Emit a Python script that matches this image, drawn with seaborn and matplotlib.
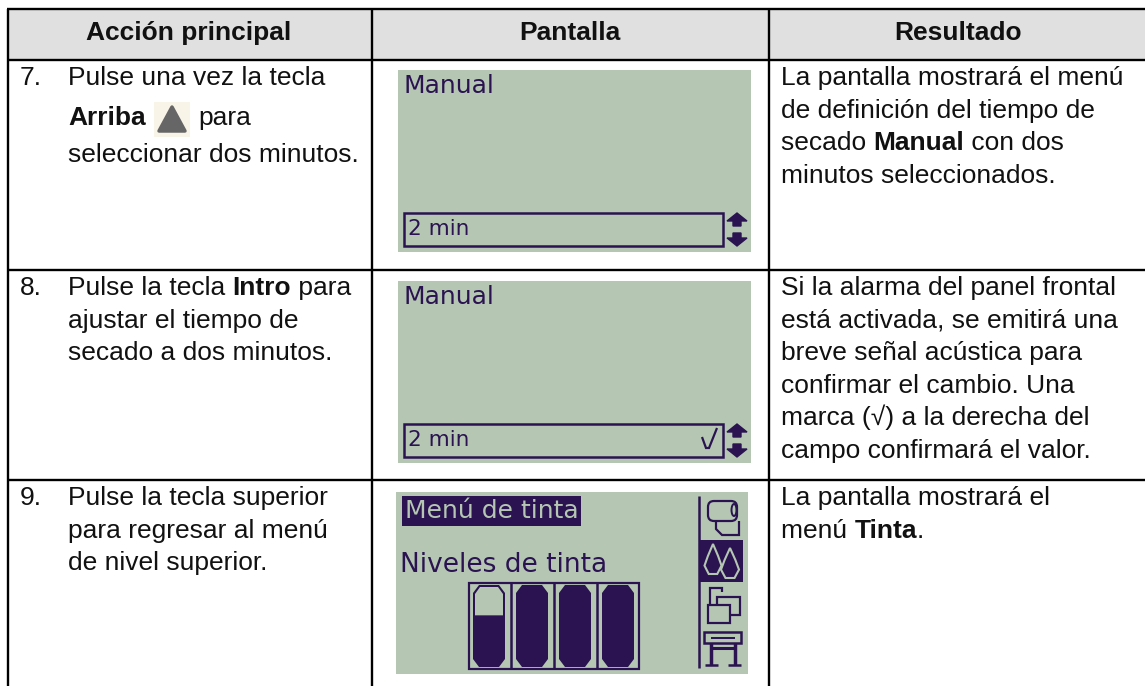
import matplotlib
matplotlib.use('Agg')
import matplotlib.pyplot as plt
import seaborn as sns
from matplotlib.patches import Polygon, Rectangle, Ellipse, FancyBboxPatch

HEADERS = ['Acción principal', 'Pantalla', 'Resultado']
STEP_NUMBERS = ['7.', '8.', '9.']
ACTION_TEXT = [
    [[('Pulse una vez la tecla', False)],
     [('Arriba', True)],
     [('seleccionar dos minutos.', False)]],
    [[('Pulse la tecla ', False), ('Intro', True), (' para', False)],
     [('ajustar el tiempo de', False)],
     [('secado a dos minutos.', False)]],
    [[('Pulse la tecla superior', False)],
     [('para regresar al menú', False)],
     [('de nivel superior.', False)]],
]
RESULT_TEXT = [
    [[('La pantalla mostrará el menú', False)],
     [('de definición del tiempo de', False)],
     [('secado ', False), ('Manual', True), (' con dos', False)],
     [('minutos seleccionados.', False)]],
    [[('Si la alarma del panel frontal', False)],
     [('está activada, se emitirá una', False)],
     [('breve señal acústica para', False)],
     [('confirmar el cambio. Una', False)],
     [('marca (√) a la derecha del', False)],
     [('campo confirmará el valor.', False)]],
    [[('La pantalla mostrará el', False)],
     [('menú ', False), ('Tinta', True), ('.', False)]],
]
SCREEN_TITLE = 'Manual'
SCREEN_VALUE = '2 min'
SCREEN_MENU = 'Menú de tinta'
SCREEN_LEVELS = 'Niveles de tinta'
INK_FRACTIONS = [0.63, 1.0, 1.0, 1.0]

LCD = '#b5c7b3'
INK = '#2a1350'
FONT = ['Liberation Sans', 'DejaVu Sans']

sns.set_theme(style='white')
plt.rcParams['font.family'] = FONT

fig = plt.figure(figsize=(11.45, 6.86), dpi=100)
ax = fig.add_axes([0, 0, 1, 1])
ax.set_xlim(0, 1145)
ax.set_ylim(686, 0)
ax.axis('off')

LEFT, COL1, COL2, RIGHT = 8, 372, 769, 1145
TOP, HEAD, ROW1, ROW2 = 9, 60, 270, 480
ROW_TOPS = [HEAD, ROW1, ROW2]
LINE_STEP = 32.6


def runs(x, y, parts, size=19):
    # draw mixed regular/bold pieces one after the other on a baseline
    renderer = fig.canvas.get_renderer()
    for s, bold in parts:
        t = ax.text(x, y, s.replace(' ', '\u00a0'), fontsize=size, color='#111111', va='baseline',
                    fontweight='bold' if bold else 'normal')
        x += t.get_window_extent(renderer).width
    return x


def line(xs, ys, lw=1.4, color=INK):
    ax.plot(xs, ys, color=color, lw=lw, solid_capstyle='butt', solid_joinstyle='miter')


def lcd_arrows(x, y):
    ax.add_patch(Polygon([(x, y), (x + 10, y + 8), (x + 4, y + 8), (x + 4, y + 13), (x - 4, y + 13), (x - 4, y + 8), (x - 10, y + 8)], color=INK))
    y = y + 33
    ax.add_patch(Polygon([(x, y), (x + 10, y - 8), (x + 4, y - 8), (x + 4, y - 13), (x - 4, y - 13), (x - 4, y - 8), (x - 10, y - 8)], color=INK))


def manual_screen(y0, checked):
    ax.add_patch(Rectangle((398, y0), 353, 182, color=LCD, lw=0))
    ax.text(403, y0 + 23, SCREEN_TITLE, fontsize=18, family='DejaVu Sans', color=INK, va='baseline')
    ax.add_patch(Rectangle((404, y0 + 143), 319, 33, fill=False, ec=INK, lw=1.8))
    ax.text(408, y0 + 165, SCREEN_VALUE, fontsize=15.5, family='DejaVu Sans', color=INK, va='baseline')
    lcd_arrows(737, y0 + 143)
    if checked:
        line([702, 706, 709, 717], [y0 + 156, y0 + 167, y0 + 167, y0 + 147], lw=1.6)


def drop(x, y, w, h, color):
    ax.add_patch(Polygon([(x, y), (x + w * 0.3, y + h * 0.4), (x + w / 2, y + h * 0.72), (x + w * 0.25, y + h), (x - w * 0.25, y + h), (x - w / 2, y + h * 0.72), (x - w * 0.3, y + h * 0.4)], fill=False, ec=color, lw=1.5))


def ink_screen(y0):
    ax.add_patch(Rectangle((396, y0), 352, 182, color=LCD, lw=0))
    ax.add_patch(Rectangle((402, y0 + 4), 179, 30, color=INK, lw=0))
    ax.text(405, y0 + 26, SCREEN_MENU, fontsize=18, family='DejaVu Sans', color=LCD, va='baseline')
    ax.text(400, y0 + 80, SCREEN_LEVELS, fontsize=19, family='DejaVu Sans', color=INK, va='baseline')
    # ink cartridges
    ax.add_patch(Rectangle((468.5, y0 + 91), 170, 86, fill=False, ec=INK, lw=1.6))
    for i, frac in enumerate(INK_FRACTIONS):
        x = 473 + i * 43
        outline = [(x + 6, y0 + 93), (x + 26, y0 + 93), (x + 32, y0 + 101), (x + 32, y0 + 167), (x + 26, y0 + 175), (x + 6, y0 + 175), (x, y0 + 167), (x, y0 + 101)]
        ax.add_patch(Polygon(outline, color=INK, lw=0))
        if frac < 1:
            level = y0 + 93 + (1 - frac) * 82
            top = [(x + 7, y0 + 95), (x + 25, y0 + 95), (x + 30, y0 + 102), (x + 30, level), (x + 2, level), (x + 2, y0 + 102)]
            ax.add_patch(Polygon(top, color=LCD, lw=0))
        if i < 3:
            line([x + 38, x + 38], [y0 + 91, y0 + 177], lw=1.8)
    # menu tabs on the right
    line([699, 699], [y0 + 4, y0 + 176], lw=1.8)
    # paper roll
    ax.add_patch(FancyBboxPatch((708, y0 + 9), 29, 20, boxstyle='round,pad=0,rounding_size=6', fill=False, ec=INK, lw=1.6))
    ax.add_patch(Ellipse((734, y0 + 18), 5, 12, fill=False, ec=INK, lw=1.4))
    line([716, 716, 722, 739, 739], [y0 + 29, y0 + 37, y0 + 43, y0 + 43, y0 + 29], lw=1.6)
    # selected ink tab
    ax.add_patch(Rectangle((699, y0 + 48), 44, 42, color=INK, lw=0))
    drop(713, y0 + 52, 17, 30, LCD)
    drop(730, y0 + 56, 18, 30, LCD)
    # folders
    ax.add_patch(Rectangle((708, y0 + 113), 22, 18, fill=False, ec=INK, lw=1.6))
    line([710, 710, 722, 722], [y0 + 113, y0 + 96, y0 + 96, y0 + 100], lw=1.6)
    line([717, 717, 740, 740, 731], [y0 + 113, y0 + 105, y0 + 105, y0 + 123, y0 + 123], lw=1.6)
    # plotter
    ax.add_patch(Rectangle((704, y0 + 140), 37, 11, fill=False, ec=INK, lw=1.8))
    line([711, 735], [y0 + 146, y0 + 146], lw=1.4)
    line([711, 711], [y0 + 151, y0 + 173], lw=2.5)
    line([735, 735], [y0 + 151, y0 + 173], lw=2.5)
    line([711, 735], [y0 + 156, y0 + 156], lw=2.2)
    line([705, 718], [y0 + 173, y0 + 173], lw=1.8)
    line([728, 741], [y0 + 173, y0 + 173], lw=1.8)


# table frame
ax.add_patch(Rectangle((LEFT, TOP), RIGHT - LEFT, HEAD - TOP, color='#e0e0e0', lw=0))
for y in [TOP] + ROW_TOPS:
    line([LEFT - 1, RIGHT], [y, y], lw=1.7, color='black')
for x in [LEFT, COL1, COL2]:
    line([x, x], [TOP, 686], lw=1.7, color='black')

for header, cx in zip(HEADERS, [189, 570, 958]):
    ax.text(cx, 40, header, fontsize=19, fontweight='bold', ha='center', va='baseline', color='#111111')

for i, top in enumerate(ROW_TOPS):
    ax.text(20, top + 25, STEP_NUMBERS[i], fontsize=19, va='baseline', color='#111111')
    for j, parts in enumerate(ACTION_TEXT[i]):
        if i == 0:
            y = [85, 125, 162][j]
        else:
            y = top + 25 + j * LINE_STEP
        runs(68, y, parts)
    for j, parts in enumerate(RESULT_TEXT[i]):
        runs(781, top + 25 + j * LINE_STEP, parts)

# inline key icon in step 7
ax.add_patch(Rectangle((154, 102), 36, 35, color='#f8f4e8', lw=0))
ax.add_patch(Polygon([(172, 107), (185, 131), (159, 131)], facecolor='#666666', edgecolor='#666666', lw=2.5, joinstyle='round'))
runs(198, 125, [('para', False)])

manual_screen(70, False)
manual_screen(281, True)
ink_screen(492)

fig.savefig('out.png', dpi=100)
plt.close(fig)
